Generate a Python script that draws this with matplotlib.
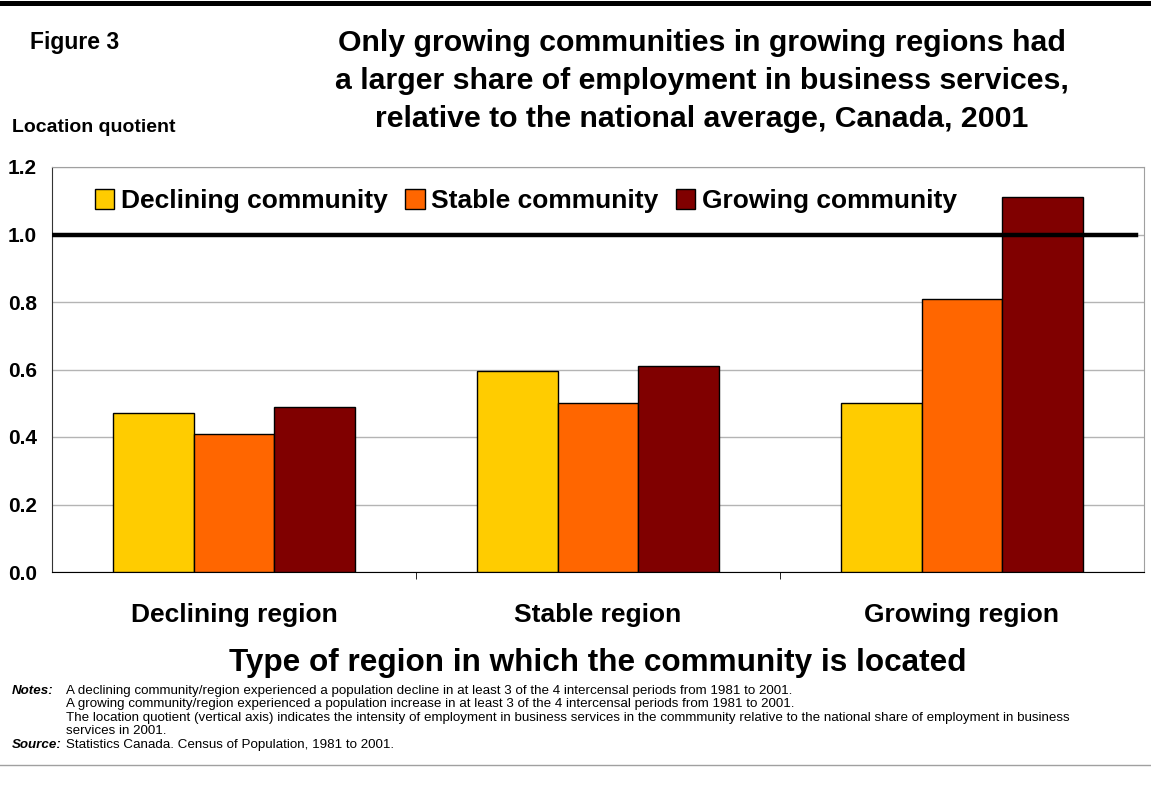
import matplotlib.pyplot as plt
import numpy as np
from matplotlib.lines import Line2D

plt.rcParams['font.family'] = ['Liberation Sans', 'DejaVu Sans']

regions = ["Declining region", "Stable region", "Growing region"]
series = ["Declining community", "Stable community", "Growing community"]
declining = [0.47, 0.595, 0.50]
stable = [0.41, 0.50, 0.81]
growing = [0.49, 0.61, 1.11]
colors = ["#FFCC00", "#FF6600", "#800000"]
yticks = [0.0, 0.2, 0.4, 0.6, 0.8, 1.0, 1.2]

title_lines = [
    "Only growing communities in growing regions had",
    "a larger share of employment in business services,",
    "relative to the national average, Canada, 2001",
]
notes = [
    "A declining community/region experienced a population decline in at least 3 of the 4 intercensal periods from 1981 to 2001.",
    "A growing community/region experienced a population increase in at least 3 of the 4 intercensal periods from 1981 to 2001.",
    "The location quotient (vertical axis) indicates the intensity of employment in business services in the commmunity relative to the national share of employment in business",
    "services in 2001.",
]
source = "Statistics Canada. Census of Population, 1981 to 2001."


def main():
    fig = plt.figure(figsize=(11.51, 7.93), dpi=100)
    W, H = 1151, 793

    ax = fig.add_axes([52 / W, (H - 572) / H, 1092 / W, 405 / H])

    x = np.arange(len(regions))
    w = 0.2225
    for i, (vals, name) in enumerate(zip([declining, stable, growing], series)):
        ax.bar(x + (i - 1) * w, vals, w, color=colors[i], edgecolor="black",
               linewidth=1, label=name, zorder=3)

    # national average reference line
    ax.axhline(1.0, xmin=0, xmax=0.993, color="black", linewidth=3.2, zorder=4)

    ax.set_xlim(-0.5, 2.5)
    ax.set_ylim(0, 1.2)
    ax.set_yticks(yticks)
    ax.set_yticklabels([f"{v:.1f}" for v in yticks], fontsize=15, fontweight="bold")
    ax.tick_params(axis="y", length=0, pad=11)
    ax.yaxis.grid(True, color="#b4b4b4", linewidth=1, zorder=0)

    ax.set_xticks(x)
    ax.set_xticklabels(regions, fontsize=19, fontweight="bold")
    ax.tick_params(axis="x", which="major", length=0, pad=22)
    ax.set_xticks([0.5, 1.5], minor=True)
    ax.tick_params(axis="x", which="minor", length=5, color="black")

    for s in ["top", "right"]:
        ax.spines[s].set_color("#a0a0a0")
    ax.spines["left"].set_color("#333333")
    ax.spines["bottom"].set_color("black")

    ax.legend(ncol=3, loc="upper left", bbox_to_anchor=(0.039, 0.945),
              frameon=False, prop={"weight": "bold", "size": 19},
              handlelength=0.75, handleheight=0.75, handletextpad=0.25,
              columnspacing=0.65, borderpad=0, borderaxespad=0)

    fig.text(598 / W, 1 - 663 / H,
             "Type of region in which the community is located",
             ha="center", va="center", fontsize=22.7, fontweight="bold")

    fig.text(30 / W, 1 - 42 / H, "Figure 3", ha="left", va="center",
             fontsize=16.5, fontweight="bold")
    for i, line in enumerate(title_lines):
        fig.text(702 / W, 1 - (43 + 38 * i) / H, line, ha="center", va="center",
                 fontsize=21.8, fontweight="bold")
    fig.text(12 / W, 1 - 128 / H, "Location quotient", ha="left", va="center",
             fontsize=14, fontweight="bold")

    fig.text(12 / W, 1 - 691 / H, "Notes:", ha="left", va="center",
             fontsize=9.6, fontweight="bold", style="italic")
    for i, line in enumerate(notes):
        fig.text(66 / W, 1 - (691 + 13.5 * i) / H, line, ha="left", va="center",
                 fontsize=9.6)
    fig.text(12 / W, 1 - 745 / H, "Source:", ha="left", va="center",
             fontsize=9.6, fontweight="bold", style="italic")
    fig.text(66 / W, 1 - 745 / H, source, ha="left", va="center", fontsize=9.6)

    fig.add_artist(Line2D([0, 1], [1 - 2.5 / H, 1 - 2.5 / H], color="black",
                          linewidth=3.6, transform=fig.transFigure))
    fig.add_artist(Line2D([0, 1], [1 - 765 / H, 1 - 765 / H], color="#a0a0a0",
                          linewidth=1, transform=fig.transFigure))

    fig.savefig("out.png", dpi=100)


if __name__ == "__main__":
    main()
